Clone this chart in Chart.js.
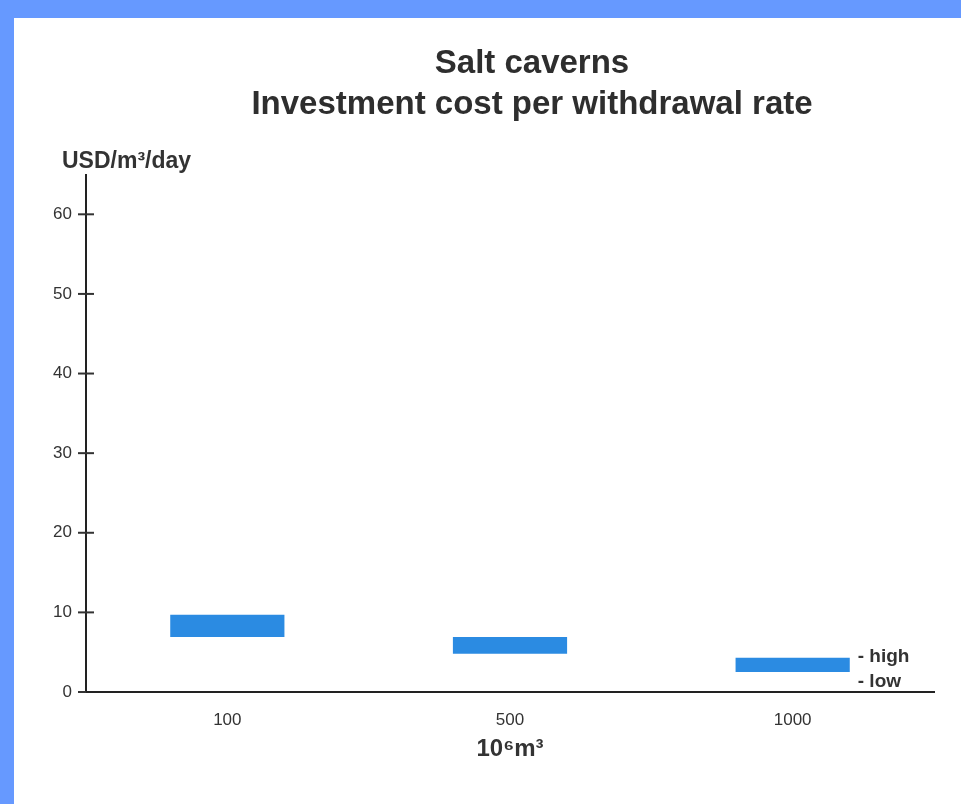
<!DOCTYPE html>
<meta charset="UTF-8">
<title>Salt caverns</title>
<script src="https://cdn.jsdelivr.net/npm/chart.js"></script>
<style>
  body { margin:0; background:#6699ff; overflow:hidden; width:961px; height:804px; }
  #page { position:absolute; left:14px; top:18px; width:947px; height:786px; background:#fff; overflow:hidden; }
  canvas { display:block; }
</style>
<script>
// data
var categories = ['100', '500', '1000'];
var lowValues  = [6.9, 4.8, 2.5];
var highValues = [9.7, 6.9, 4.3];
var titleLines = ['Salt caverns', 'Investment cost per withdrawal rate'];
var yUnit = 'USD/m\u00B3/day';
var xUnit = '10\u2076m\u00B3';
var highLabel = '- high';
var lowLabel = '- low';

var fontFam = "'Liberation Sans', Arial, sans-serif";

// draws the cross ticks on the y axis plus the loose labels
var extras = {
    id: 'extras',
    afterDraw: function(chart){
        var ctx = chart.ctx;
        var y = chart.scales.y;
        ctx.save();
        ctx.strokeStyle = '#333';
        ctx.lineWidth = 2;
        y.ticks.forEach(function(t){
            var py = y.getPixelForValue(t.value);
            ctx.beginPath();
            ctx.moveTo(y.right - 8, py);
            ctx.lineTo(y.right + (t.value === 0 ? 0 : 8), py);
            ctx.stroke();
        });
        ctx.fillStyle = '#333';
        ctx.font = 'bold 23px ' + fontFam;
        ctx.textBaseline = 'middle';
        ctx.textAlign = 'left';
        ctx.fillText(yUnit, y.right - 24, chart.chartArea.top - 13);

        var meta = chart.getDatasetMeta(0);
        var last = meta.data[meta.data.length - 1];
        var lx = last.x + last.width / 2 + 8;
        var top = Math.min(last.y, last.base);
        ctx.font = 'bold 19px ' + fontFam;
        ctx.fillText(highLabel, lx, top - 1);
        ctx.fillText(lowLabel, lx, top + 24);
        ctx.restore();
    }
};

function drawChart(){
    var ctx = document.getElementById('chart').getContext('2d');
    var ranges = categories.map(function(c, i){ return [lowValues[i], highValues[i]]; });
    new Chart(ctx, {
        type: 'bar',
        data: {
            labels: categories,
            datasets: [{
                data: ranges,
                backgroundColor: '#2b8be2',
                borderWidth: 0,
                categoryPercentage: 1,
                barPercentage: 0.404
            }]
        },
        options: {
            responsive: false,
            animation: false,
            layout: { padding: 0 },
            plugins: {
                legend: { display: false },
                tooltip: { enabled: false },
                title: {
                    display: true,
                    text: titleLines,
                    color: '#2e2e2e',
                    font: { family: fontFam, size: 33, weight: 'bold', lineHeight: 1.25 },
                    padding: { top: 25, bottom: 49 }
                }
            },
            scales: {
                x: {
                    grid: { display: false, drawTicks: false },
                    border: { display: true, color: '#222', width: 2 },
                    ticks: { color: '#333', font: { family: fontFam, size: 17 }, padding: 18 },
                    title: {
                        display: true,
                        text: xUnit,
                        color: '#333',
                        font: { family: fontFam, size: 24, weight: 'bold' },
                        padding: { top: 0, bottom: 40 }
                    },
                    afterFit: function(s){ s.height = 112; }
                },
                y: {
                    min: 0,
                    max: 65,
                    grid: { display: false, drawTicks: false },
                    border: { display: true, color: '#222', width: 2 },
                    ticks: { stepSize: 10, includeBounds: false, color: '#333', font: { family: fontFam, size: 17 }, padding: 14 },
                    afterFit: function(s){ s.width = 72; }
                },
                // empty right-hand strip so the title sits where it does in the scan
                side: {
                    position: 'right',
                    min: 0,
                    max: 65,
                    grid: { display: false, drawTicks: false },
                    border: { display: false },
                    ticks: { display: false },
                    afterFit: function(s){ s.width = 116; }
                }
            }
        },
        plugins: [extras]
    });
}
</script>
<html>
  <body>
    <div id="page">
      <canvas id="chart" width="1036" height="786" style="width:1036px;height:786px"></canvas>
    </div>
    <script>drawChart();</script>
  </body>
</html>
